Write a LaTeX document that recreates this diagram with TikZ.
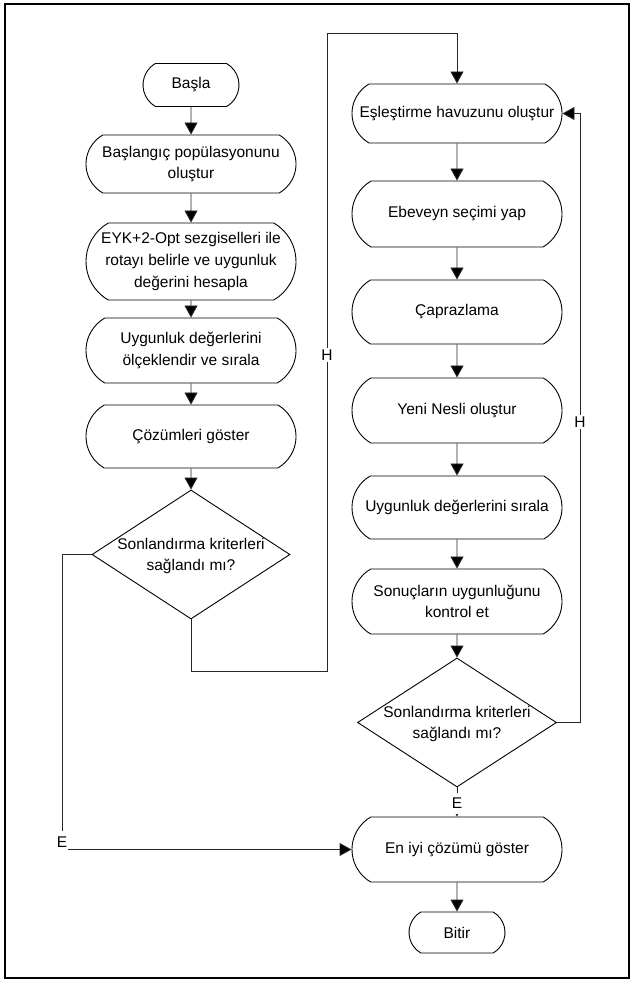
\documentclass[tikz,border=0pt]{standalone}
\usepackage{fontspec}
\setmainfont{Liberation Sans}
\usetikzlibrary{shapes.misc,shapes.geometric,arrows.meta}
\tikzset{
  term/.style={draw=black, line width=0.9pt, rounded rectangle, rounded rectangle arc length=120,
    minimum width=210pt, inner sep=0pt, align=center, font=\fontsize{15.5}{21.7}\selectfont},
  smallterm/.style={term, minimum width=96pt},
  dec/.style={draw=black, line width=0.9pt, diamond, inner sep=0pt},
  txt/.style={align=center, inner sep=0pt, font=\fontsize{15.5}{21.7}\selectfont},
  lab/.style={fill=white, inner sep=1.5pt, font=\fontsize{15.5}{18}\selectfont},
  conn/.style={draw=black!85, line width=0.9pt},
  arr/.style={conn, -{Triangle[length=12pt,width=13pt,fill=black]}}
}
\begin{document}
\begin{tikzpicture}[x=1pt,y=-1pt]
\useasboundingbox (0,0) rectangle (634,981);
\draw[line width=2.5pt] (5,4) rectangle (629,978);

% left column
\node[smallterm, minimum height=43pt] (basla) at (191,85) {Başla};
\node[term, minimum height=58pt] (bas2) at (191,164) {Başlangıç popülasyonunu\\oluştur};
\node[term, minimum height=77pt] (eyk) at (191,261.5) {EYK+2-Opt sezgiselleri ile\\rotayı belirle ve uygunluk\\değerini hesapla};
\node[term, minimum height=65pt] (uyg1) at (191,350.5) {Uygunluk değerlerini\\ölçeklendir ve sırala};
\node[term, minimum height=63pt] (coz) at (191,436.5) {Çözümleri göster};
\node[dec, minimum width=198pt, minimum height=129pt] (d1) at (191,554.5) {};
\node[txt] (d1t) at (191,556) {Sonlandırma kriterleri\\sağlandı mı?};

% right column
\node[term, minimum height=59pt] (esl) at (457,113.5) {Eşleştirme havuzunu oluştur};
\node[term, minimum height=66pt] (ebe) at (457,214) {Ebeveyn seçimi yap};
\node[term, minimum height=64pt] (cap) at (457,312) {Çaprazlama};
\node[term, minimum height=65pt] (yeni) at (457,410.5) {Yeni Nesli oluştur};
\node[term, minimum height=63pt] (uyg2) at (457,507.5) {Uygunluk değerlerini sırala};
\node[term, minimum height=65pt] (sonuc) at (457,601.5) {Sonuçların uygunluğunu\\kontrol et};
\node[dec, minimum width=199pt, minimum height=129pt] (d2) at (457,722.5) {};
\node[txt] (d2t) at (457,724) {Sonlandırma kriterleri\\sağlandı mı?};
\node[term, minimum height=65pt] (eniyi) at (457,849.5) {En iyi çözümü göster};
\node[smallterm, minimum height=41pt] (bitir) at (457,932.5) {Bitir};

% straight arrows
\draw[arr] (basla) -- (bas2);
\draw[arr] (bas2) -- (eyk);
\draw[arr] (eyk) -- (uyg1);
\draw[arr] (uyg1) -- (coz);
\draw[arr] (coz) -- (d1);
\draw[arr] (esl) -- (ebe);
\draw[arr] (ebe) -- (cap);
\draw[arr] (cap) -- (yeni);
\draw[arr] (yeni) -- (uyg2);
\draw[arr] (uyg2) -- (sonuc);
\draw[arr] (sonuc) -- (d2);
\draw[arr] (eniyi) -- (bitir);

% d1 -> H -> esl
\coordinate (a1) at (327,671);
\coordinate (a2) at (327,33);
\draw[arr] (d1.south) |- (a1) -- (a2) -| (esl.north);
\node[lab] (h1) at (327,355) {H};

% d2 -> H -> esl
\coordinate (b1) at (580,113.5);
\draw[arr] (d2.east) -| (b1) -- (esl.east);
\node[lab] (h2) at (580,422) {H};

% d1 -> E -> eniyi
\coordinate (e1) at (62,849.5);
\draw[arr] (d1.west) -| (e1) -- (eniyi.west);
\node[lab, minimum height=22pt, minimum width=12pt, inner sep=0pt] (e1l) at (62,842) {E};

% d2 -> E -> eniyi
\draw[arr] (d2.south) -- (eniyi.north);
\node[lab, minimum height=21pt, minimum width=18pt, inner sep=0pt] (e2l) at (457,803.5) {E};
\end{tikzpicture}
\end{document}
